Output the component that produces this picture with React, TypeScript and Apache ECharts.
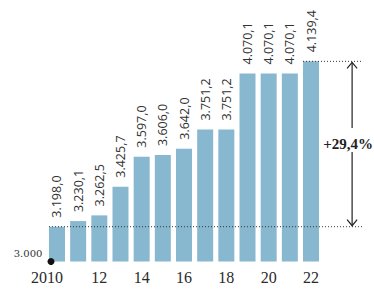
import React, { useEffect, useRef } from "react";
import * as echarts from "echarts";

const years = ["2010", "11", "12", "13", "14", "15", "16", "17", "18", "19", "20", "21", "22"];
const values = [3198.0, 3230.1, 3262.5, 3425.7, 3597.0, 3606.0, 3642.0, 3751.2, 3751.2, 4070.1, 4070.1, 4070.1, 4139.4];
const baseLabel = "3.000";
const changeLabel = "+29,4%";

const fmt = (v: number) => {
  const [i, d] = v.toFixed(1).split(".");
  return i.slice(0, i.length - 3) + "." + i.slice(-3) + "," + d;
};

export default function App() {
  const ref = useRef<HTMLDivElement>(null);
  useEffect(() => {
    const chart = echarts.init(ref.current!, null, { renderer: "svg" });
    const barWidth = 16;
    const yearStyle = { fontFamily: "Liberation Serif", fontSize: 16, color: "#2a2a2a" };
    chart.setOption({
      animation: false,
      grid: { left: 46.4, right: 52.4, top: 50.7, bottom: 27.5 },
      xAxis: {
        type: "category",
        data: years,
        axisLine: { show: false },
        axisTick: { show: false },
        axisLabel: {
          interval: 0,
          margin: 8,
          ...yearStyle,
          rich: { first: { ...yearStyle, padding: [0, 20, 0, 0] } },
          formatter: (v: string, i: number) => (i === 0 ? `{first|${v}}` : i % 2 === 0 ? v : ""),
        },
      },
      yAxis: {
        type: "value",
        min: 3000,
        max: 4200,
        interval: 1200,
        splitLine: { show: false },
        axisLine: { show: false },
        axisTick: { show: false },
        axisLabel: {
          margin: 4,
          fontFamily: "DejaVu Serif",
          fontSize: 10,
          color: "#333",
          verticalAlign: "bottom",
          padding: [0, 0, 3, 0],
          formatter: (v: number) => (v === 3000 ? baseLabel : ""),
        },
      },
      series: [
        {
          type: "bar",
          data: values,
          barWidth,
          itemStyle: { color: "#87b8cf" },
          label: {
            show: true,
            position: "top",
            rotate: 90,
            align: "left",
            verticalAlign: "middle",
            distance: 9,
            fontFamily: "Open Sans",
            fontSize: 12.5,
            color: "#333",
            formatter: (p: any) => fmt(p.value),
          },
        },
      ],
    });

    const first = chart.convertToPixel({ seriesIndex: 0 }, [0, values[0]]) as number[];
    const last = chart.convertToPixel({ seriesIndex: 0 }, [values.length - 1, values[values.length - 1]]) as number[];
    const base = chart.convertToPixel({ seriesIndex: 0 }, [0, 3000]) as number[];
    const gridRight = last[0] + 10.6;
    const ax = gridRight + 30.5;
    const lineEnd = ax + 10;
    const yTop = last[1];
    const yBot = first[1];
    const mid = (yTop + yBot) / 2;
    const stroke = { stroke: "#222", lineWidth: 1.2, fill: null as any };
    const dotted = { stroke: "#333", lineWidth: 1, lineDash: [1, 2] };
    chart.setOption({
      graphic: [
        { type: "line", shape: { x1: first[0] - barWidth / 2, y1: yBot, x2: lineEnd, y2: yBot }, style: dotted, z: 10 },
        { type: "line", shape: { x1: last[0] - barWidth / 2, y1: yTop, x2: lineEnd, y2: yTop }, style: dotted, z: 10 },
        { type: "line", shape: { x1: ax, y1: yTop + 1, x2: ax, y2: mid - 16 }, style: stroke },
        { type: "line", shape: { x1: ax, y1: mid + 8, x2: ax, y2: yBot - 1 }, style: stroke },
        { type: "polyline", shape: { points: [[ax - 5, yTop + 7], [ax, yTop + 1], [ax + 5, yTop + 7]] }, style: stroke },
        { type: "polyline", shape: { points: [[ax - 5, yBot - 7], [ax, yBot - 1], [ax + 5, yBot - 7]] }, style: stroke },
        {
          type: "text",
          x: ax - 4,
          y: mid,
          style: {
            text: changeLabel,
            fontFamily: "Liberation Serif",
            fontWeight: "bold",
            fontSize: 15,
            fill: "#222",
            align: "center",
            verticalAlign: "middle",
          },
        },
        { type: "circle", shape: { cx: first[0] - barWidth / 2 + 2, cy: base[1], r: 3.5 }, style: { fill: "#111" }, z: 10 },
      ],
    });
    return () => chart.dispose();
  }, []);
  return <div ref={ref} style={{ position: "absolute", left: 0, top: 0, width: 374, height: 289 }} />;
}
